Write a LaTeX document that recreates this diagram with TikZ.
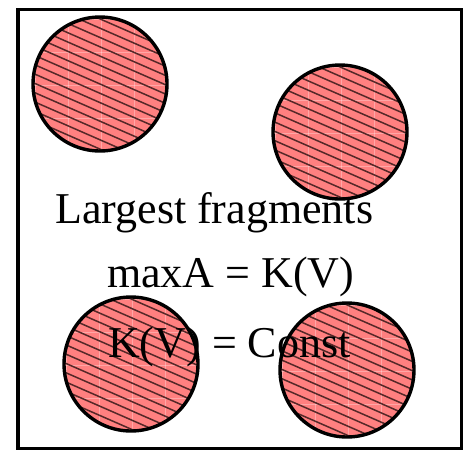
\documentclass[tikz,border=0pt]{standalone}
\usepackage{fontspec}
\setmainfont{Liberation Serif}
\definecolor{fragred}{RGB}{255,128,128}
\definecolor{hatchcol}{RGB}{85,40,40}
\tikzset{
  frame/.style={line width=3.6pt, draw=black},
  fragfill/.style={fill=fragred},
  hatchline/.style={draw=hatchcol, line width=1.5pt},
  gridline/.style={draw=white, opacity=0.3, line width=0.6pt},
  fragrim/.style={draw=black, line width=3.4pt},
  label/.style={inner sep=0pt, anchor=base west, font=\fontsize{44}{50}\selectfont}
}
\begin{document}
\begin{tikzpicture}[x=1pt,y=-1pt]
\useasboundingbox (0,0) rectangle (468,451);
\fill[white] (0,0) rectangle (468,451);
\draw[frame] (18,9.5) rectangle (461.5,448.5);
\foreach \cx/\cy in {100/84, 340/132, 131/364, 347/370} {
  \begin{scope}
    \clip (\cx,\cy) circle (67pt);
    \fill[fragfill] (\cx,\cy) circle (67pt);
    \foreach \g in {-2,...,2} {
      \draw[gridline] (\cx+\g*33+1,\cy-70) -- (\cx+\g*33+1,\cy+70);
      \draw[gridline] (\cx-70,\cy+\g*33+1) -- (\cx+70,\cy+\g*33+1);
    }
    \foreach \k in {-12,...,12} {
      \draw[hatchline] (\cx-80,\cy+\k*9.3-35) -- (\cx+80,\cy+\k*9.3+35);
    }
  \end{scope}
  \draw[fragrim] (\cx,\cy) circle (67pt);
}
\node[label] (t1) at (55,223) {Largest fragments};
\node[label] (t2) at (107,287) {maxA = K(V)};
\node[label] (t3) at (108,357) {K(V) = Const};
\end{tikzpicture}
\end{document}
